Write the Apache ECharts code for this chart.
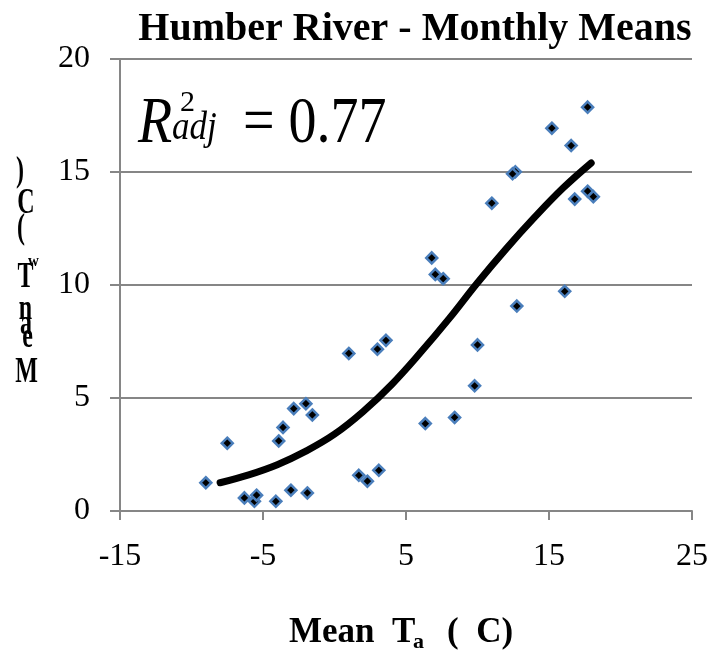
<!DOCTYPE html>
<html><head><meta charset="utf-8">
<script src="https://cdn.jsdelivr.net/npm/echarts@6/dist/echarts.min.js"></script>
<style>html,body{margin:0;padding:0;background:#fff}#c{width:711px;height:651px}</style>
</head><body><div id="c"></div>
<script>
// Observed monthly means: air temperature (x) and water temperature (y)
const meanTa = [-9.0, -7.5, -6.3, -5.6, -5.45, -4.1, -3.05, -1.9, -3.9, -3.6, -2.85, -2.0, -1.55,
  1.0, 3.0, 3.6, 1.7, 2.3, 3.1, 6.35, 6.8, 7.05, 7.6, 12.75, 10.0, 9.8, 8.4,
  17.7, 15.2, 16.55, 12.65, 12.45, 11.0, 17.7, 18.1, 16.8, 16.1];
const meanTw = [1.25, 3.0, 0.58, 0.43, 0.70, 0.43, 0.92, 0.80, 3.1, 3.7, 4.53, 4.75, 4.25,
  6.97, 7.16, 7.55, 1.58, 1.32, 1.8, 3.87, 11.2, 10.47, 10.28, 9.07, 7.35, 5.54, 4.14,
  17.87, 16.94, 16.17, 15.01, 14.92, 13.62, 14.15, 13.91, 13.8, 9.72];
// Fitted curve
const fitTa = [-8.0, -6.0, -4.0, -2.0, 0.0, 2.0, 4.0, 6.0, 8.0, 10.0, 12.0, 14.0, 16.0, 17.95];
const fitTw = [1.25, 1.6, 2.05, 2.65, 3.4, 4.4, 5.6, 7.0, 8.5, 10.1, 11.6, 13.0, 14.3, 15.4];
const xRange = [-15, 25, 10];
const yRange = [0, 20, 5];
const titleText = 'Humber River - Monthly Means';
const r2Value = '= 0.77';

const SERIF = '"Liberation Serif", "Times New Roman", serif';
const GRAY = '#868686';

function txt(str, x, baseline, size, o) {
  o = o || {};
  const sy = o.sy || 1;
  const al = o.align || 'left';
  return {
    type: 'text', x: x, y: baseline - 0.3375 * size * sy, scaleY: sy, z: 100,
    style: {
      text: str, fill: '#000',
      fontFamily: SERIF, fontSize: size,
      fontWeight: o.bold ? 'bold' : 'normal',
      fontStyle: o.italic ? 'italic' : 'normal',
      align: al, textAlign: al, verticalAlign: 'middle', textVerticalAlign: 'middle'
    }
  };
}

const graphics = [
  // R^2_adj = 0.77
  txt('R', 138, 147, 56, {italic: true, sy: 1.18}),
  txt('2', 180, 113, 30, {sy: 1.0}),
  txt('adj', 172, 142, 35, {italic: true, sy: 1.15}),
  txt(r2Value, 243, 147, 56, {sy: 1.18}),
  // x axis title
  txt('Mean  T', 289, 645, 35, {bold: true}),
  txt('a', 413, 650, 22, {bold: true}),
  txt('(  C)', 447, 645, 35, {bold: true}),
  // y axis title (stacked characters)
  txt(')', 20, 183.5, 24, {bold: true, sy: 1.5, align: 'center'}),
  txt('C', 26, 216, 24, {bold: true, sy: 1.5, align: 'center'}),
  txt('(', 21, 240.5, 24, {bold: true, sy: 1.5, align: 'center'}),
  txt('w', 33.5, 267.5, 15, {bold: true, sy: 1.1, align: 'center'}),
  txt('T', 25.5, 290, 24, {bold: true, sy: 1.5, align: 'center'}),
  txt('n', 25.5, 322, 24, {bold: true, sy: 1.5, align: 'center'}),
  txt('a', 26, 337, 24, {bold: true, sy: 1.5, align: 'center'}),
  txt('e', 27.5, 350, 24, {bold: true, sy: 1.5, align: 'center'}),
  txt('M', 26.5, 385, 24, {bold: true, sy: 1.5, align: 'center'})
];

const chart = echarts.init(document.getElementById('c'), null, {renderer: 'canvas'});
chart.setOption({
  animation: false,
  backgroundColor: '#fff',
  title: {
    text: titleText, left: 415, top: 10, textAlign: 'center', padding: 0,
    textStyle: {fontFamily: SERIF, fontSize: 40, fontWeight: 'bold', color: '#000', lineHeight: 40}
  },
  grid: {left: 120, right: 18, top: 59, bottom: 140, containLabel: false},
  xAxis: {
    type: 'value', min: xRange[0], max: xRange[1], interval: xRange[2],
    splitLine: {show: false},
    axisLine: {show: true, onZero: false, lineStyle: {color: GRAY, width: 2}},
    axisTick: {show: true, length: 9, lineStyle: {color: GRAY, width: 2}},
    axisLabel: {fontFamily: SERIF, fontSize: 32, color: '#000', margin: 30}
  },
  yAxis: {
    type: 'value', min: yRange[0], max: yRange[1], interval: yRange[2],
    splitLine: {show: true, lineStyle: {color: GRAY, width: 2}},
    axisLine: {show: true, onZero: false, lineStyle: {color: GRAY, width: 2}},
    axisTick: {show: true, length: 10, lineStyle: {color: GRAY, width: 2}},
    axisLabel: {fontFamily: SERIF, fontSize: 32, color: '#000', margin: 30}
  },
  series: [
    {
      type: 'scatter', symbol: 'diamond', symbolSize: 11,
      data: meanTa.map((x, i) => [x, meanTw[i]]),
      itemStyle: {color: '#000', borderColor: '#4a7ebb', borderWidth: 2.5, opacity: 1},
      z: 2
    },
    {
      type: 'line', smooth: 0.4, showSymbol: false, symbol: 'none',
      data: fitTa.map((x, i) => [x, fitTw[i]]),
      lineStyle: {color: '#000', width: 7, cap: 'round', join: 'round'},
      z: 3
    }
  ],
  graphic: graphics
});
</script>
</body></html>
